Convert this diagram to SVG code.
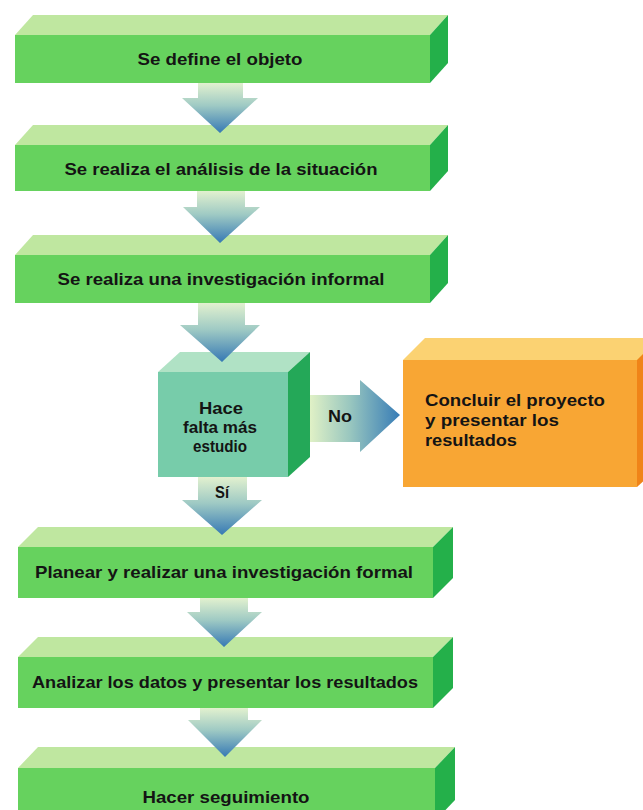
<svg xmlns="http://www.w3.org/2000/svg" width="643" height="810" viewBox="0 0 643 810">
<defs>
<linearGradient id="gDown" x1="0" y1="0" x2="0" y2="1">
<stop offset="0" stop-color="#e2f1cf"/>
<stop offset="0.45" stop-color="#9fcac4"/>
<stop offset="1" stop-color="#3679b4"/>
</linearGradient>
<linearGradient id="gRight" x1="0" y1="0" x2="1" y2="0">
<stop offset="0" stop-color="#e0f1c6"/>
<stop offset="0.45" stop-color="#98c6bf"/>
<stop offset="1" stop-color="#377cb6"/>
</linearGradient>
</defs>
<style>
.gf{fill:#66d25e}
.gt{fill:#bfe7a0}
.gs{fill:#24b04a}
.tf{fill:#77ccaa}
.tt{fill:#b0e2c5}
.ts{fill:#24a858}
.of{fill:#f8a634}
.ot{fill:#fbd272}
.os{fill:#f08418}
.t{font-family:"Liberation Sans",Arial,sans-serif;font-weight:bold;font-size:17px;fill:#141414}
.c{text-anchor:middle}
.arD{fill:url(#gDown)}
.arR{fill:url(#gRight)}
</style>

<g id="nodes">
<g id="n1">
<polygon class="gt" points="15,35 33,15 448,15 430,35"/>
<polygon class="gs" points="430,35 448,15 448,63 430,83"/>
<rect class="gf" x="15" y="35" width="415" height="48"/>
<text class="t c" x="220" y="65" textLength="165" lengthAdjust="spacingAndGlyphs">Se define el objeto</text>
</g>
<g id="n2">
<polygon class="gt" points="15,145 33,125 448,125 430,145"/>
<polygon class="gs" points="430,145 448,125 448,171 430,191"/>
<rect class="gf" x="15" y="145" width="415" height="46"/>
<text class="t c" x="221" y="175" textLength="313" lengthAdjust="spacingAndGlyphs">Se realiza el análisis de la situación</text>
</g>
<g id="n3">
<polygon class="gt" points="15,255 33,235 448,235 430,255"/>
<polygon class="gs" points="430,255 448,235 448,283 430,303"/>
<rect class="gf" x="15" y="255" width="415" height="48"/>
<text class="t c" x="221" y="285" textLength="327" lengthAdjust="spacingAndGlyphs">Se realiza una investigación informal</text>
</g>
<g id="n4">
<polygon class="tt" points="158,372 180,352 310,352 288,372"/>
<polygon class="ts" points="288,372 310,352 310,457 288,477"/>
<rect class="tf" x="158" y="372" width="130" height="105"/>
<text class="t c" x="221" y="414" textLength="44" lengthAdjust="spacingAndGlyphs">Hace</text>
<text class="t c" x="220" y="433" textLength="74" lengthAdjust="spacingAndGlyphs">falta más</text>
<text class="t c" x="220" y="452" textLength="54" lengthAdjust="spacingAndGlyphs">estudio</text>
</g>
<g id="n5">
<polygon class="ot" points="403,360 425,338 665,338 643,360"/>
<polygon class="os" points="637,360 659,338 659,467 637,487"/>
<rect class="of" x="403" y="360" width="234" height="127"/>
<text class="t" x="425" y="406" textLength="180" lengthAdjust="spacingAndGlyphs">Concluir el proyecto</text>
<text class="t" x="425" y="426" textLength="134" lengthAdjust="spacingAndGlyphs">y presentar los</text>
<text class="t" x="425" y="446" textLength="92" lengthAdjust="spacingAndGlyphs">resultados</text>
</g>
<g id="n6">
<polygon class="gt" points="18,547 38,527 453,527 433,547"/>
<polygon class="gs" points="433,547 453,527 453,578 433,598"/>
<rect class="gf" x="18" y="547" width="415" height="51"/>
<text class="t c" x="224" y="578" textLength="378" lengthAdjust="spacingAndGlyphs">Planear y realizar una investigación formal</text>
</g>
<g id="n7">
<polygon class="gt" points="18,657 38,637 453,637 433,657"/>
<polygon class="gs" points="433,657 453,637 453,688 433,708"/>
<rect class="gf" x="18" y="657" width="415" height="51"/>
<text class="t c" x="225" y="688" textLength="386" lengthAdjust="spacingAndGlyphs">Analizar los datos y presentar los resultados</text>
</g>
<g id="n8">
<polygon class="gt" points="18,768 38,747 455,747 435,768"/>
<polygon class="gs" points="435,768 455,747 455,800 435,821"/>
<rect class="gf" x="18" y="768" width="417" height="50"/>
<text class="t c" x="226" y="803" textLength="167" lengthAdjust="spacingAndGlyphs">Hacer seguimiento</text>
</g>
</g>

<g id="connectors">
<polygon class="arD" points="198,83 243,83 243,98 258,98 220,133 182,98 198,98"/>
<polygon class="arD" points="197,191 245,191 245,207 260,207 220,243 183,207 197,207"/>
<polygon class="arD" points="198,303 245,303 245,325 260,325 222,362 180,325 198,325"/>
<polygon class="arR" points="310,395 360,395 360,380 400,415 360,452 360,442 310,442"/>
<text class="t c" x="340" y="422" textLength="24" lengthAdjust="spacingAndGlyphs">No</text>
<polygon class="arD" points="198,477 247,477 247,500 262,500 222,535 182,500 198,500"/>
<text class="t c" x="222" y="498" textLength="14" lengthAdjust="spacingAndGlyphs">Sí</text>
<polygon class="arD" points="200,598 248,598 248,612 262,612 224,647 187,612 200,612"/>
<polygon class="arD" points="200,708 248,708 248,720 262,720 225,757 188,720 200,720"/>
</g>
</svg>
